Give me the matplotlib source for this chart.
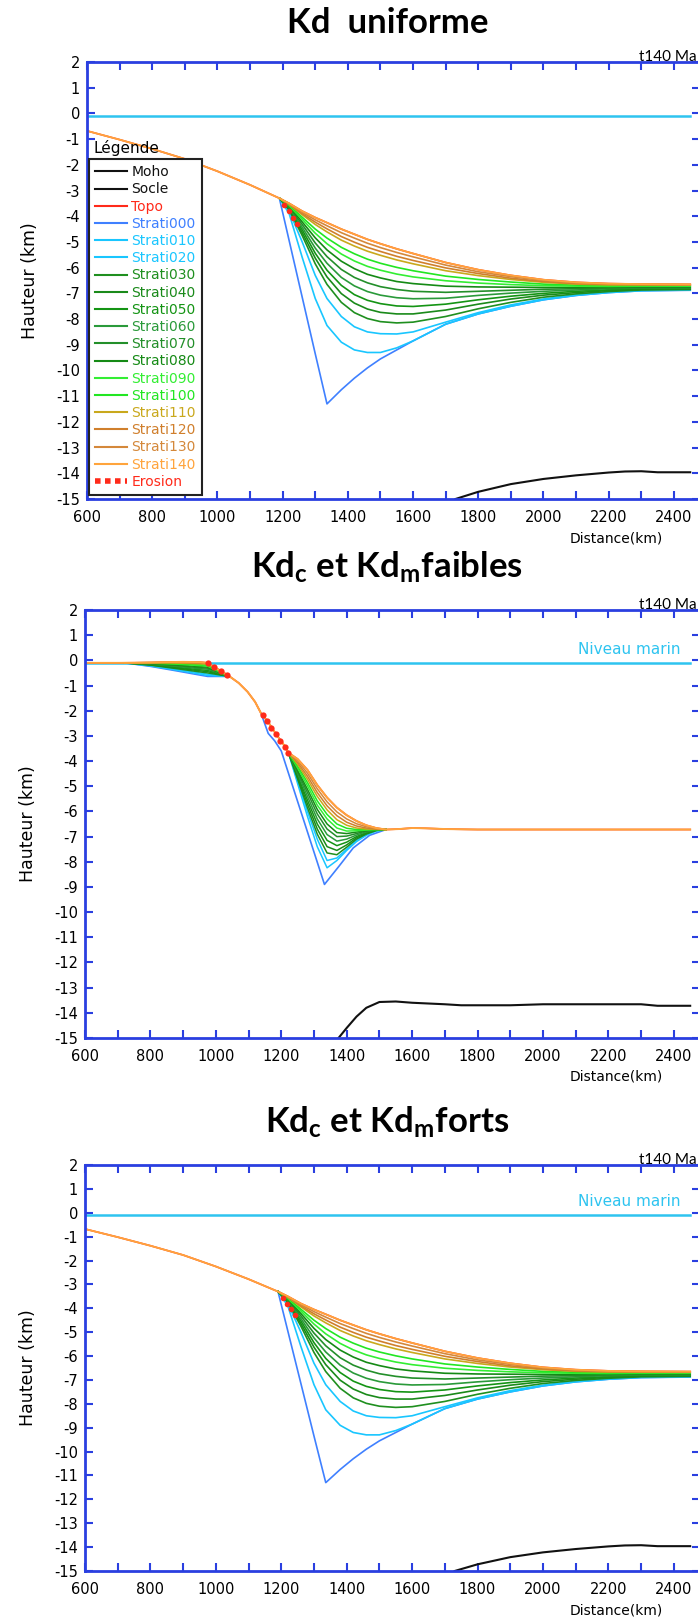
import matplotlib
matplotlib.use('Agg')
import matplotlib.pyplot as plt
from matplotlib.ticker import MultipleLocator
from matplotlib.lines import Line2D

plt.rcParams['font.family'] = ['DejaVu Sans']
plt.rcParams['axes.unicode_minus'] = False
plt.rcParams['mathtext.fontset'] = 'custom'
plt.rcParams['mathtext.rm'] = 'Lato:bold'
plt.rcParams['mathtext.it'] = 'Lato:bold'
plt.rcParams['mathtext.bf'] = 'Lato:bold'

# ---------------- data ----------------
names = ['Moho', 'Socle', 'Topo', 'Strati000', 'Strati010', 'Strati020', 'Strati030',
         'Strati040', 'Strati050', 'Strati060', 'Strati070', 'Strati080', 'Strati090',
         'Strati100', 'Strati110', 'Strati120', 'Strati130', 'Strati140', 'Erosion']
colors = ['#111111', '#111111', '#ff2a1a', '#3f80ff', '#19c6ff', '#19c6ff', '#1f8f1f',
          '#1a8a1a', '#149414', '#2a9a3a', '#238f2a', '#158a15', '#33ee33',
          '#22e622', '#c9a81c', '#d07f2c', '#d4883a', '#ffa43c', '#ff2a1a']
strati_colors = colors[3:18]

# panels 1 and 3 (Kd uniforme / Kd forts)
shelf_x = [600, 700, 800, 900, 1000, 1100, 1190]
shelf_y = [-0.68, -1.02, -1.38, -1.77, -2.25, -2.78, -3.3]
basin_x = [1190, 1220, 1260, 1300, 1336, 1380, 1420, 1460, 1500, 1550, 1600,
           1700, 1800, 1900, 2000, 2100, 2200, 2300, 2450]
strati_basin = [
    [-3.3, -4.95, -7.15, -9.35, -11.3, -10.75, -10.3, -9.9, -9.55, -9.2, -8.85, -8.2, -7.8, -7.5, -7.25, -7.08, -6.97, -6.9, -6.88],
    [-3.3, -3.9, -5.6, -7.2, -8.25, -8.9, -9.2, -9.3, -9.3, -9.12, -8.85, -8.2, -7.8, -7.5, -7.25, -7.08, -6.97, -6.9, -6.87],
    [-3.3, -3.8, -5.0, -6.3, -7.2, -7.9, -8.3, -8.5, -8.57, -8.58, -8.5, -8.12, -7.75, -7.45, -7.22, -7.06, -6.95, -6.88, -6.86],
    [-3.3, -3.75, -4.75, -5.85, -6.65, -7.35, -7.75, -7.98, -8.1, -8.15, -8.12, -7.9, -7.6, -7.35, -7.15, -7.02, -6.93, -6.87, -6.85],
    [-3.3, -3.72, -4.64, -5.63, -6.36, -7.01, -7.38, -7.61, -7.74, -7.8, -7.8, -7.65, -7.42, -7.22, -7.07, -6.97, -6.89, -6.84, -6.83],
    [-3.3, -3.69, -4.53, -5.44, -6.1, -6.69, -7.05, -7.27, -7.4, -7.49, -7.51, -7.42, -7.25, -7.11, -7.0, -6.92, -6.86, -6.82, -6.8],
    [-3.3, -3.67, -4.43, -5.24, -5.83, -6.38, -6.71, -6.93, -7.07, -7.17, -7.21, -7.19, -7.08, -6.99, -6.92, -6.87, -6.82, -6.79, -6.78],
    [-3.3, -3.64, -4.32, -5.04, -5.57, -6.07, -6.38, -6.59, -6.74, -6.85, -6.92, -6.96, -6.92, -6.88, -6.84, -6.82, -6.79, -6.77, -6.76],
    [-3.3, -3.61, -4.22, -4.84, -5.31, -5.75, -6.04, -6.26, -6.4, -6.54, -6.62, -6.72, -6.75, -6.76, -6.77, -6.77, -6.76, -6.74, -6.74],
    [-3.3, -3.59, -4.12, -4.66, -5.07, -5.47, -5.74, -5.95, -6.1, -6.25, -6.36, -6.51, -6.6, -6.66, -6.7, -6.72, -6.73, -6.72, -6.72],
    [-3.3, -3.56, -4.04, -4.5, -4.85, -5.21, -5.46, -5.67, -5.83, -5.99, -6.12, -6.33, -6.46, -6.56, -6.64, -6.68, -6.7, -6.7, -6.7],
    [-3.3, -3.54, -3.94, -4.32, -4.61, -4.93, -5.16, -5.36, -5.52, -5.7, -5.85, -6.12, -6.31, -6.46, -6.57, -6.64, -6.67, -6.67, -6.68],
    [-3.3, -3.53, -3.9, -4.23, -4.49, -4.79, -5.01, -5.21, -5.37, -5.56, -5.72, -6.01, -6.23, -6.41, -6.54, -6.62, -6.65, -6.66, -6.67],
    [-3.3, -3.51, -3.85, -4.14, -4.37, -4.64, -4.85, -5.05, -5.22, -5.41, -5.58, -5.9, -6.16, -6.35, -6.5, -6.59, -6.64, -6.65, -6.66],
    [-3.3, -3.5, -3.8, -4.05, -4.25, -4.5, -4.7, -4.9, -5.07, -5.27, -5.45, -5.8, -6.08, -6.3, -6.47, -6.57, -6.62, -6.64, -6.65],
]
socle_x = [1730, 1800, 1900, 2000, 2100, 2200, 2250, 2300, 2350, 2450]
socle_y = [-15.0, -14.72, -14.42, -14.22, -14.08, -13.97, -13.93, -13.92, -13.96, -13.96]
erosion_x = [1205, 1218, 1231, 1243]
erosion_y = [-3.55, -3.8, -4.05, -4.3]

# panel 2 (Kd faibles)
p2_shelf_x = [600, 700, 800, 850, 900, 950, 975]
p2_shelf_y = [-0.1, -0.1, -0.09, -0.07, -0.06, -0.07, -0.1]
p2_slope_x = [995, 1016, 1040, 1070, 1097, 1120, 1138, 1160, 1185, 1205]
p2_slope_y = [-0.27, -0.42, -0.62, -0.9, -1.25, -1.65, -2.1, -2.45, -2.95, -3.3]
p2_fan_x = [720, 800, 880, 940, 975, 1040]
p2_fan_y = [
    [-0.1, -0.24, -0.42, -0.56, -0.64, -0.64],
    [-0.1, -0.22, -0.39, -0.52, -0.6, -0.64],
    [-0.1, -0.21, -0.36, -0.48, -0.55, -0.64],
    [-0.1, -0.19, -0.33, -0.44, -0.5, -0.64],
    [-0.1, -0.18, -0.3, -0.4, -0.45, -0.64],
    [-0.1, -0.16, -0.27, -0.36, -0.4, -0.64],
    [-0.1, -0.15, -0.24, -0.32, -0.35, -0.64],
    [-0.1, -0.14, -0.21, -0.28, -0.31, -0.64],
    [-0.1, -0.12, -0.18, -0.24, -0.27, -0.64],
    [-0.1, -0.11, -0.15, -0.2, -0.23, -0.64],
    [-0.1, -0.1, -0.13, -0.17, -0.19, -0.64],
    [-0.1, -0.09, -0.11, -0.13, -0.15, -0.64],
    [-0.1, -0.09, -0.08, -0.1, -0.12, -0.64],
    [-0.1, -0.09, -0.07, -0.08, -0.1, -0.64],
]
p2_basin_x = [1222, 1250, 1280, 1310, 1340, 1370, 1400, 1430, 1460, 1490, 1520]
p2_basin_y = [
    [-3.67, -4.9, -6.2, -7.4, -8.24, -7.95, -7.55, -7.2, -6.95, -6.78, -6.72],
    [-3.67, -4.8, -6.0, -7.1, -7.95, -7.85, -7.5, -7.15, -6.92, -6.77, -6.72],
    [-3.67, -4.72, -5.85, -6.9, -7.65, -7.72, -7.42, -7.1, -6.9, -6.76, -6.72],
    [-3.67, -4.65, -5.7, -6.7, -7.4, -7.55, -7.33, -7.05, -6.87, -6.75, -6.72],
    [-3.67, -4.58, -5.55, -6.5, -7.15, -7.36, -7.22, -7.0, -6.84, -6.74, -6.72],
    [-3.67, -4.5, -5.4, -6.3, -6.92, -7.18, -7.1, -6.94, -6.81, -6.73, -6.72],
    [-3.67, -4.43, -5.25, -6.1, -6.7, -7.0, -6.98, -6.88, -6.78, -6.73, -6.72],
    [-3.67, -4.36, -5.12, -5.92, -6.5, -6.84, -6.88, -6.82, -6.76, -6.72, -6.72],
    [-3.67, -4.28, -4.98, -5.75, -6.3, -6.66, -6.78, -6.77, -6.74, -6.72, -6.72],
    [-3.67, -4.2, -4.85, -5.58, -6.12, -6.5, -6.67, -6.72, -6.72, -6.72, -6.72],
    [-3.67, -4.13, -4.72, -5.4, -5.94, -6.33, -6.55, -6.66, -6.7, -6.71, -6.72],
    [-3.67, -4.06, -4.6, -5.25, -5.78, -6.17, -6.43, -6.58, -6.66, -6.7, -6.72],
    [-3.67, -3.99, -4.48, -5.1, -5.62, -6.02, -6.3, -6.49, -6.61, -6.68, -6.72],
    [-3.67, -3.92, -4.35, -4.95, -5.45, -5.85, -6.15, -6.38, -6.55, -6.66, -6.72],
]
p2_s000_x = [1138, 1160, 1180, 1200, 1332, 1375, 1420, 1470, 1520]
p2_s000_y = [-2.1, -2.9, -3.2, -3.6, -8.9, -8.2, -7.45, -6.95, -6.72]
p2_flat_x = [1560, 1600, 1640, 1700, 1800, 2450]
p2_flat_y = [-6.7, -6.66, -6.67, -6.7, -6.72, -6.72]
p2_socle_x = [1375, 1400, 1430, 1460, 1500, 1550, 1600, 1700, 1750, 1900, 2000, 2300, 2350, 2450]
p2_socle_y = [-15.0, -14.6, -14.15, -13.8, -13.57, -13.55, -13.6, -13.66, -13.7, -13.7, -13.66, -13.66, -13.72, -13.72]
p2_erosion_x = [975, 995, 1016, 1033, 1143, 1156, 1170, 1184, 1196, 1210, 1220]
p2_erosion_y = [-0.1, -0.27, -0.42, -0.6, -2.18, -2.4, -2.68, -2.93, -3.19, -3.43, -3.67]

sea_level = -0.1
sea_x = [600, 2450]

titles = ['Kd  uniforme',
          r'Kd$_\mathrm{c}$ et Kd$_\mathrm{m}$faibles',
          r'Kd$_\mathrm{c}$ et Kd$_\mathrm{m}$forts']

# ---------------- figure ----------------
W, H = 698, 1622
fig = plt.figure(figsize=(W / 100, H / 100), dpi=100)
BLUE = '#2a3fe0'
SEA = '#2ec4f0'


def add_axes(left, top, bottom, right=700):
    return fig.add_axes([left / W, 1 - bottom / H, (right - left) / W, (bottom - top) / H])


def style(ax):
    ax.set_xlim(600, 2480)
    ax.set_ylim(-15, 2)
    ax.xaxis.set_major_locator(MultipleLocator(200))
    ax.xaxis.set_minor_locator(MultipleLocator(100))
    ax.yaxis.set_major_locator(MultipleLocator(1))
    ax.tick_params(which='both', direction='in', top=True, right=True, color=BLUE,
                   length=6, width=1.5, labelsize=10.5, pad=5)
    ax.tick_params(axis='x', pad=8)
    for s in ax.spines.values():
        s.set_color(BLUE)
        s.set_linewidth(2)
    ax.set_ylabel('Hauteur (km)', fontsize=12.5, labelpad=12)


def decorate(ax, top, bottom, marin):
    fig.text(697 / W, 1 - (top - 1) / H, 't140 Ma', ha='right', va='baseline',
             fontsize=11, family='Lato')
    fig.text(663 / W, 1 - (bottom + 39) / H, 'Distance(km)', ha='right', va='center',
             fontsize=10)
    if marin:
        ax.text(2420, sea_level + 0.25, 'Niveau marin', color=SEA, ha='right',
                va='bottom', fontsize=11)


def draw_uniforme(ax):
    ax.plot(sea_x, [sea_level, sea_level], color=SEA, lw=1.8)
    ax.plot(socle_x, socle_y, color='#111111', lw=1.5)
    ax.plot(shelf_x[:-1] + basin_x, shelf_y[:-1] + strati_basin[-1], color='#ff2a1a', lw=1.2)
    for ys, c in zip(strati_basin[:-1], strati_colors[:-1]):
        ax.plot(basin_x, ys, color=c, lw=1.2)
    ax.plot(shelf_x[:-1] + basin_x, shelf_y[:-1] + strati_basin[-1], color=strati_colors[-1], lw=1.3)
    ax.plot(erosion_x, erosion_y, ls='none', marker='o', ms=4, color='#ff2a1a', mec='none')


# panel 1
P1 = (87, 62, 499)
ax1 = add_axes(*P1)
style(ax1)
draw_uniforme(ax1)
decorate(ax1, P1[1], P1[2], False)

handles = [Line2D([0], [0], color=c, lw=1.5) for c in colors[:-1]]
handles.append(Line2D([0], [0], color=colors[-1], lw=4, ls=(0, (1, 0.8))))
leg = fig.legend(handles, names, loc='upper left', bbox_to_anchor=(89 / W, 1 - 159 / H),
                 borderaxespad=0, fontsize=10, labelspacing=0.23, handlelength=2.3,
                 handletextpad=0.3, borderpad=0.45, fancybox=False, framealpha=1,
                 edgecolor='#222222')
leg.get_frame().set_linewidth(1.5)
for t, c in zip(leg.get_texts(), colors):
    t.set_color(c)
fig.text(93 / W, 1 - 148 / H, 'Légende', fontsize=11, va='center', ha='left')

# panel 2
P2 = (85, 610, 1038)
ax2 = add_axes(*P2)
style(ax2)
ax2.plot(sea_x, [sea_level, sea_level], color=SEA, lw=1.8)
ax2.plot(p2_socle_x, p2_socle_y, color='#111111', lw=1.5)
topo2_x = p2_shelf_x + p2_slope_x + p2_basin_x + p2_flat_x
topo2_y = p2_shelf_y + p2_slope_y + p2_basin_y[-1] + p2_flat_y
ax2.plot(topo2_x, topo2_y, color='#ff2a1a', lw=1.2)
ax2.plot(p2_s000_x, p2_s000_y, color=strati_colors[0], lw=1.2)
for i in range(14):
    ax2.plot(p2_fan_x, p2_fan_y[i], color=strati_colors[i], lw=1.1)
    if i > 0:
        ax2.plot(p2_basin_x, p2_basin_y[i - 1], color=strati_colors[i], lw=1.1)
ax2.plot(topo2_x, topo2_y, color=strati_colors[-1], lw=1.4)
ax2.plot(p2_erosion_x, p2_erosion_y, ls='none', marker='o', ms=4.5, color='#ff2a1a', mec='none')
decorate(ax2, P2[1], P2[2], True)

# panel 3
P3 = (85, 1165, 1571)
ax3 = add_axes(*P3)
style(ax3)
draw_uniforme(ax3)
decorate(ax3, P3[1], P3[2], True)

for ty, title in zip([23, 567, 1122], titles):
    fig.text(0.555, 1 - ty / H, title, ha='center', va='center', fontsize=25,
             family='Lato', fontweight='bold')

fig.savefig('out.png', dpi=100, facecolor='white')
